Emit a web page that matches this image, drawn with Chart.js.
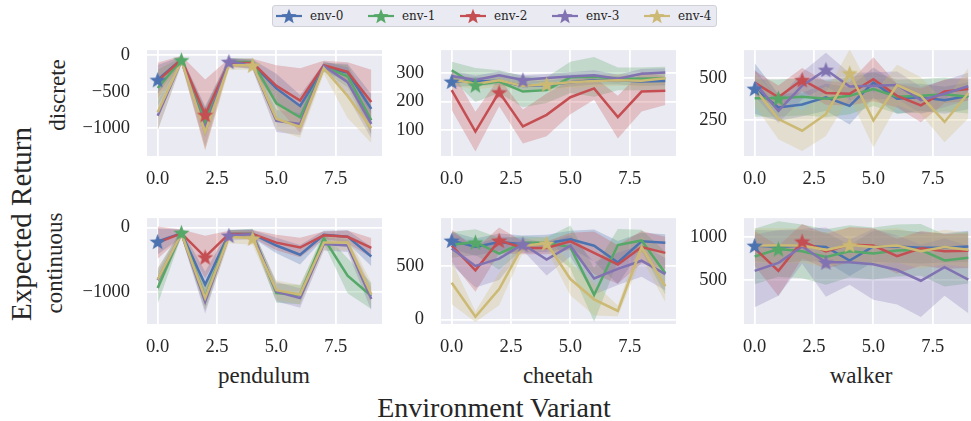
<!DOCTYPE html>
<html>
<head>
<meta charset="utf-8">
<script src="https://cdn.jsdelivr.net/npm/chart.js@4"></script>
<style>
  body { margin: 0; width: 971px; height: 421px; overflow: hidden; background: #fff; position: relative; }
  canvas { position: absolute; }
  .lab { position: absolute; transform: translate(-50%, -50%); white-space: nowrap; line-height: 1;
         font-family: "Liberation Serif", "Times New Roman", serif; color: #262626; }
  .rot { transform: translate(-50%, -50%) rotate(-90deg); }
  #legend { position: absolute; left: 272px; top: 5px; width: 443px; height: 20px;
            background: #EAEAF2; border: 1px solid #d0d0d8; border-radius: 3px; }
  .item { position: absolute; top: 0; height: 20px; display: flex; align-items: center;
          font-family: "DejaVu Serif", serif; font-size: 12px; color: #262626; }
  .item canvas { position: static; margin-right: 8px; }
</style>
</head>
<body>

<div class="lab" style="left:264px; top:375px; font-size:23px;">pendulum</div>
<div class="lab" style="left:558px; top:375px; font-size:23px;">cheetah</div>
<div class="lab" style="left:861px; top:375px; font-size:23px;">walker</div>
<div class="lab rot" style="left:57px; top:95px; font-size:23px;">discrete</div>
<div class="lab rot" style="left:54px; top:263px; font-size:23px;">continuous</div>
<div class="lab rot" style="left:21px; top:224px; font-size:29px;">Expected Return</div>
<div class="lab" style="left:494px; top:408px; font-size:28px;">Environment Variant</div>
<div id="legend"></div>

<script>
// env variants on the x axis
const variants = [0, 1, 2, 3, 4, 5, 6, 7, 8, 9];
const envNames = ['env-0', 'env-1', 'env-2', 'env-3', 'env-4'];
const envColors = ['#4C72B0', '#55A868', '#C44E52', '#8172B2', '#CCB974'];
const xTicks = [0, 2.5, 5, 7.5];

// discrete / pendulum
const pendulumDiscreteMean = [
  [-337, -60, -900, -100, -120, -456, -695, -170, -240, -735],
  [-450, -67, -920, -95, -95, -660, -850, -160, -290, -890],
  [-357, -60, -814, -110, -110, -420, -620, -140, -230, -640],
  [-830, -80, -1000, -90, -140, -900, -940, -150, -370, -940],
  [-780, -80, -1050, -140, -140, -870, -980, -180, -560, -1000]
];
const pendulumDiscreteStd = [
  [200, 40, 200, 60, 60, 200, 150, 60, 120, 200],
  [250, 40, 200, 50, 50, 200, 150, 60, 150, 200],
  [250, 50, 480, 60, 60, 280, 440, 60, 130, 440],
  [200, 50, 250, 50, 60, 150, 150, 60, 200, 200],
  [250, 50, 250, 60, 60, 150, 150, 80, 300, 200]
];
const pendulumDiscreteTicks = [-1000, -500, 0];

// discrete / cheetah
const cheetahDiscreteMean = [
  [271, 270, 273, 255, 258, 268, 275, 275, 270, 272],
  [310, 258, 270, 235, 240, 285, 287, 280, 280, 282],
  [240, 94, 233, 112, 153, 215, 246, 145, 235, 238],
  [290, 276, 292, 276, 283, 288, 292, 280, 298, 302],
  [278, 262, 275, 255, 261, 268, 272, 275, 273, 282]
];
const cheetahDiscreteStd = [
  [20, 15, 15, 15, 15, 15, 15, 15, 15, 15],
  [30, 60, 40, 55, 45, 55, 70, 40, 40, 40],
  [70, 70, 50, 60, 75, 60, 40, 75, 70, 50],
  [18, 15, 14, 16, 14, 15, 18, 14, 16, 15],
  [20, 20, 22, 20, 20, 20, 20, 20, 20, 20]
];
const cheetahDiscreteTicks = [100, 200, 300];

// discrete / walker
const walkerDiscreteMean = [
  [436, 324, 341, 384, 333, 471, 376, 384, 367, 393],
  [379, 379, 388, 376, 393, 433, 388, 393, 402, 388],
  [471, 384, 488, 410, 405, 491, 393, 336, 419, 433],
  [471, 303, 453, 548, 448, 453, 457, 367, 405, 450],
  [436, 255, 186, 284, 528, 247, 457, 393, 238, 410]
];
const walkerDiscreteStd = [
  [150, 80, 70, 80, 110, 90, 90, 80, 80, 80],
  [110, 110, 110, 110, 110, 100, 100, 100, 100, 100],
  [70, 70, 70, 70, 70, 130, 70, 100, 70, 70],
  [80, 70, 80, 100, 80, 80, 80, 80, 80, 80],
  [100, 120, 120, 130, 140, 160, 120, 110, 120, 150]
];
const walkerDiscreteTicks = [250, 500];

// continuous / pendulum
const pendulumContinuousMean = [
  [-215, -89, -880, -98, -100, -277, -420, -110, -140, -446],
  [-933, -76, -1080, -98, -98, -1013, -1036, -165, -745, -1058],
  [-232, -89, -455, -98, -98, -232, -308, -120, -143, -312],
  [-812, -89, -1147, -120, -100, -991, -1089, -254, -277, -1103],
  [-803, -95, -1089, -143, -165, -969, -1036, -232, -232, -1036]
];
const pendulumContinuousStd = [
  [200, 60, 200, 60, 60, 120, 150, 60, 100, 150],
  [250, 60, 200, 60, 80, 150, 150, 80, 270, 200],
  [250, 60, 330, 50, 60, 120, 150, 60, 100, 150],
  [180, 60, 180, 80, 80, 150, 150, 100, 100, 180],
  [180, 60, 180, 100, 100, 150, 150, 120, 120, 180]
];
const pendulumContinuousTicks = [-1000, 0];

// continuous / cheetah
const cheetahContinuousMean = [
  [738, 676, 722, 703, 711, 749, 689, 532, 730, 716],
  [697, 722, 614, 716, 716, 676, 230, 695, 738, 432],
  [689, 460, 738, 668, 668, 730, 622, 514, 676, 622],
  [662, 500, 568, 703, 560, 689, 384, 473, 549, 424],
  [343, 27, 284, 689, 711, 378, 189, 81, 676, 311]
];
const cheetahContinuousStd = [
  [80, 80, 80, 80, 80, 80, 150, 200, 80, 80],
  [120, 120, 150, 60, 50, 200, 250, 150, 100, 200],
  [150, 200, 120, 60, 60, 80, 200, 180, 150, 150],
  [150, 200, 200, 60, 150, 100, 150, 150, 150, 150],
  [200, 50, 150, 60, 60, 150, 150, 50, 100, 150]
];
const cheetahContinuousTicks = [0, 500];

// continuous / walker
const walkerContinuousMean = [
  [900, 883, 900, 883, 727, 890, 890, 873, 873, 890],
  [773, 860, 833, 767, 833, 807, 843, 850, 727, 760],
  [867, 607, 950, 833, 910, 900, 777, 867, 833, 840],
  [607, 700, 890, 707, 707, 683, 617, 493, 650, 507],
  [900, 900, 900, 850, 907, 883, 900, 833, 883, 850]
];
const walkerContinuousStd = [
  [180, 190, 180, 170, 180, 180, 190, 180, 170, 180],
  [320, 320, 310, 320, 300, 300, 300, 300, 300, 300],
  [200, 290, 200, 200, 200, 200, 200, 200, 200, 200],
  [420, 380, 200, 400, 260, 410, 400, 420, 330, 390],
  [200, 200, 200, 200, 200, 200, 200, 200, 200, 200]
];
const walkerContinuousTicks = [500, 1000];

const panels = [
  { mean: pendulumDiscreteMean, std: pendulumDiscreteStd, ticks: pendulumDiscreteTicks, min: -1378, max: 67, col: 0, row: 0 },
  { mean: cheetahDiscreteMean, std: cheetahDiscreteStd, ticks: cheetahDiscreteTicks, min: 8, max: 381, col: 1, row: 0 },
  { mean: walkerDiscreteMean, std: walkerDiscreteStd, ticks: walkerDiscreteTicks, min: 36, max: 664, col: 2, row: 0 },
  { mean: pendulumContinuousMean, std: pendulumContinuousStd, ticks: pendulumContinuousTicks, min: -1491, max: 147, col: 0, row: 1 },
  { mean: cheetahContinuousMean, std: cheetahContinuousStd, ticks: cheetahContinuousTicks, min: -41, max: 946, col: 1, row: 1 },
  { mean: walkerContinuousMean, std: walkerContinuousStd, ticks: walkerContinuousTicks, min: -7, max: 1217, col: 2, row: 1 }
];

// layout of the axes grid (pixels)
const colLeft = [147, 441, 744];
const rowTop = [34, 202];
const plotW = 235, plotH = 122;
const AX_W = 70, AX_H = 40, PAD = 12;

Chart.defaults.font.family = '"Liberation Serif", "Times New Roman", serif';
Chart.defaults.font.size = 18.5;
Chart.defaults.color = '#262626';

function alpha(hex, a) {
  const n = parseInt(hex.slice(1), 16);
  return `rgba(${n >> 16},${(n >> 8) & 255},${n & 255},${a})`;
}

function makeStar(color, r) {
  const c = document.createElement('canvas');
  const s = Math.ceil(r * 2 + 2);
  c.width = c.height = s;
  const g = c.getContext('2d');
  g.translate(s / 2, s / 2 + r * 0.1);
  g.beginPath();
  for (let i = 0; i < 10; i++) {
    const rr = i % 2 ? r * 0.42 : r;
    const a = -Math.PI / 2 + i * Math.PI / 5;
    g.lineTo(rr * Math.cos(a), rr * Math.sin(a));
  }
  g.closePath();
  g.fillStyle = color;
  g.fill();
  return c;
}

const stars = envColors.map(c => makeStar(c, 8.5));
const legendStars = envColors.map(c => makeStar(c, 8));

const plotBg = {
  id: 'plotBg',
  beforeDraw(chart) {
    const { ctx, chartArea: a } = chart;
    ctx.save();
    ctx.fillStyle = '#EAEAF2';
    ctx.fillRect(a.left, a.top, a.width, a.height);
    ctx.restore();
  }
};

const fmtY = v => (v < 0 ? '\u2212' + Math.abs(v) : String(v));
const gridOpts = { color: '#ffffff', lineWidth: 1.8, drawTicks: false };

panels.forEach(p => {
  const canvas = document.createElement('canvas');
  canvas.width = AX_W + plotW + PAD;
  canvas.height = PAD + plotH + AX_H;
  canvas.style.left = (colLeft[p.col] - AX_W) + 'px';
  canvas.style.top = (rowTop[p.row] - PAD) + 'px';
  document.body.appendChild(canvas);

  const datasets = [];
  envNames.forEach((name, k) => {
    const base = datasets.length;
    datasets.push({
      data: variants.map((x, i) => ({ x, y: p.mean[k][i] - p.std[k][i] })),
      borderColor: 'rgba(0,0,0,0)', borderWidth: 0, pointRadius: 0, fill: false, order: 50 - k
    });
    datasets.push({
      data: variants.map((x, i) => ({ x, y: p.mean[k][i] + p.std[k][i] })),
      borderColor: 'rgba(0,0,0,0)', borderWidth: 0, pointRadius: 0,
      fill: base, backgroundColor: alpha(envColors[k], 0.28), order: 50 - k
    });
    datasets.push({
      label: name,
      data: variants.map((x, i) => ({ x, y: p.mean[k][i] })),
      borderColor: envColors[k], borderWidth: 2.5, pointRadius: 0, fill: false, order: 20 - k
    });
  });
  // star marks env-k at its own variant
  envNames.forEach((name, k) => {
    datasets.push({
      data: [{ x: variants[k], y: p.mean[k][k] }],
      showLine: false, pointStyle: stars[k], pointRadius: 8, order: 5 - k
    });
  });

  new Chart(canvas, {
    type: 'line',
    data: { datasets },
    options: {
      responsive: false,
      animation: false,
      devicePixelRatio: 1,
      events: [],
      layout: { padding: { top: PAD, right: PAD, left: 0, bottom: 0 } },
      plugins: { legend: { display: false }, tooltip: { enabled: false } },
      scales: {
        x: {
          type: 'linear', min: -0.45, max: 9.45,
          afterBuildTicks: s => { s.ticks = xTicks.map(v => ({ value: v })); },
          afterFit: s => { s.height = AX_H; },
          ticks: { padding: 12, maxRotation: 0, autoSkip: false, callback: v => v.toFixed(1) },
          grid: gridOpts,
          border: { display: false }
        },
        y: {
          type: 'linear', min: p.min, max: p.max,
          afterBuildTicks: s => { s.ticks = p.ticks.map(v => ({ value: v })); },
          afterFit: s => { s.width = AX_W; },
          ticks: { padding: 17, callback: fmtY },
          grid: gridOpts,
          border: { display: false }
        }
      }
    },
    plugins: [plotBg]
  });
});

// legend
const legend = document.getElementById('legend');
envNames.forEach((name, k) => {
  const item = document.createElement('div');
  item.className = 'item';
  item.style.left = (3 + k * 92) + 'px';
  const icon = document.createElement('canvas');
  icon.width = 26; icon.height = 18;
  const g = icon.getContext('2d');
  g.strokeStyle = envColors[k];
  g.lineWidth = 2.2;
  g.beginPath(); g.moveTo(0, 9); g.lineTo(26, 9); g.stroke();
  g.drawImage(legendStars[k], 13 - legendStars[k].width / 2, 9 - legendStars[k].height / 2);
  item.appendChild(icon);
  item.appendChild(document.createTextNode(name));
  legend.appendChild(item);
});
</script>
</body>
</html>
